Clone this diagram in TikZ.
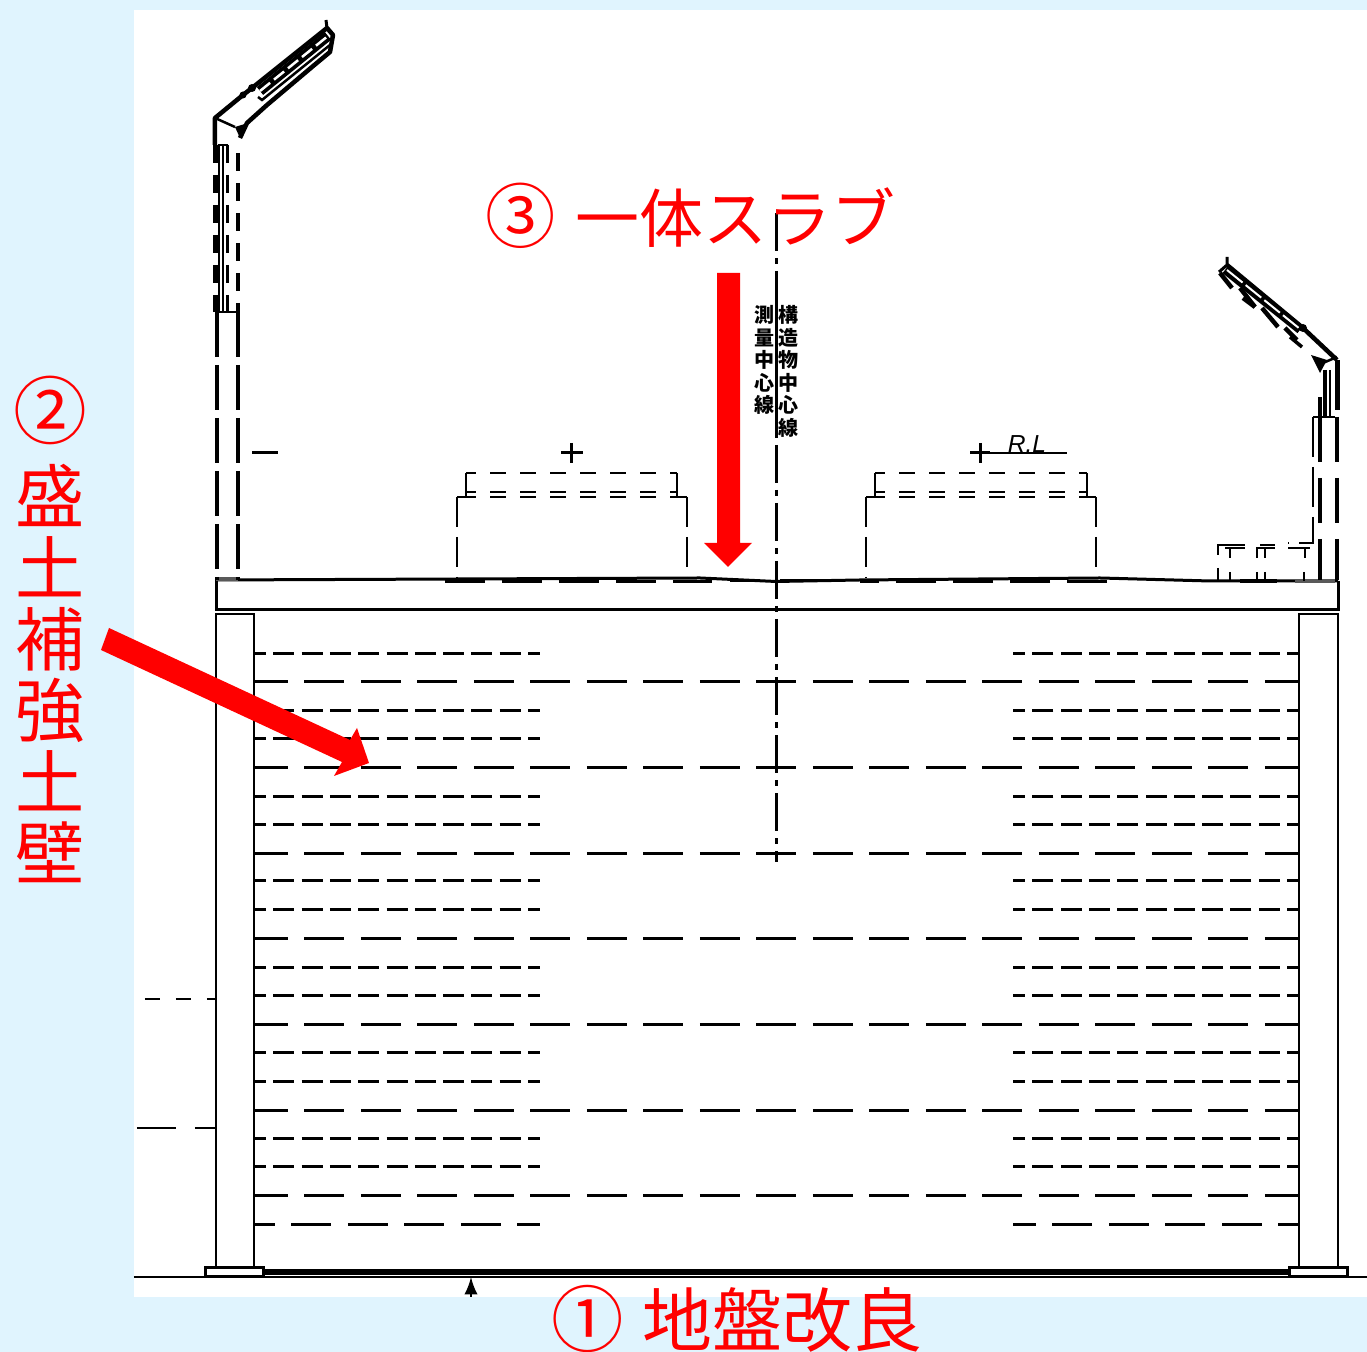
\documentclass[tikz,border=0pt]{standalone}
\usepackage{fontspec}
\setmainfont{Noto Sans CJK JP}
\newfontfamily\latinfont{Liberation Sans}
\usepackage{tikz}
\definecolor{skyback}{HTML}{E0F4FE}
\tikzset{
	plan/.style={line width=0.025cm,black},
	longrow/.style={line width=0.03cm,black,dash pattern=on 0.4cm off 0.165cm,dash phase=0.06cm},
	shortrow/.style={line width=0.03cm,black,dash pattern=on 0.21cm off 0.073cm,dash phase=0.09cm},
	heavy/.style={line width=0.03cm,black},
	stripe/.style={line width=0.045cm,black,dash pattern=on 0.18cm off 0.12cm},
	kerb/.style={plan,dash pattern=on 0.16cm off 0.14cm,dash phase=0.06cm},
	kerbside/.style={plan,dash pattern=on 0.3cm off 0.1cm},
	slabdash/.style={line width=0.03cm,black,dash pattern=on 0.4cm off 0.17cm},
	bigred/.style={red,font=\fontsize{18.2pt}{20.3pt}\selectfont\mdseries,inner sep=0pt},
	smalltext/.style={black,font=\fontsize{5.7pt}{6.4pt}\selectfont\bfseries,inner sep=0pt,align=center}
}
\begin{document}
\begin{tikzpicture}
			\useasboundingbox (0,0) rectangle (13.67,-13.52);
			\fill[skyback] (0,0) rectangle (13.67,-13.52);
			\fill[white] (1.34,-0.1) rectangle (13.67,-12.97);
			% reinforced rows
			\draw[longrow] (2.54,-6.82) -- (12.99,-6.82);
			\draw[longrow] (2.54,-7.68) -- (12.99,-7.68);
			\draw[longrow] (2.54,-8.54) -- (12.99,-8.54);
			\draw[longrow] (2.54,-9.39) -- (12.99,-9.39);
			\draw[longrow] (2.54,-10.25) -- (12.99,-10.25);
			\draw[longrow] (2.54,-11.11) -- (12.99,-11.11);
			\draw[longrow] (2.54,-11.96) -- (12.99,-11.96);
			\draw[shortrow] (2.54,-6.54) -- (5.4,-6.54);
			\draw[shortrow] (2.54,-7.11) -- (5.4,-7.11);
			\draw[shortrow] (2.54,-7.39) -- (5.4,-7.39);
			\draw[shortrow] (2.54,-7.97) -- (5.4,-7.97);
			\draw[shortrow] (2.54,-8.25) -- (5.4,-8.25);
			\draw[shortrow] (2.54,-8.81) -- (5.4,-8.81);
			\draw[shortrow] (2.54,-9.1) -- (5.4,-9.1);
			\draw[shortrow] (2.54,-9.68) -- (5.4,-9.68);
			\draw[shortrow] (2.54,-9.96) -- (5.4,-9.96);
			\draw[shortrow] (2.54,-10.53) -- (5.4,-10.53);
			\draw[shortrow] (2.54,-10.82) -- (5.4,-10.82);
			\draw[shortrow] (2.54,-11.39) -- (5.4,-11.39);
			\draw[shortrow] (2.54,-11.67) -- (5.4,-11.67);
			\draw[longrow,dash phase=0.19cm] (2.54,-12.25) -- (5.4,-12.25);
			\draw[shortrow] (12.99,-6.54) -- (10.13,-6.54);
			\draw[shortrow] (12.99,-7.11) -- (10.13,-7.11);
			\draw[shortrow] (12.99,-7.39) -- (10.13,-7.39);
			\draw[shortrow] (12.99,-7.97) -- (10.13,-7.97);
			\draw[shortrow] (12.99,-8.25) -- (10.13,-8.25);
			\draw[shortrow] (12.99,-8.81) -- (10.13,-8.81);
			\draw[shortrow] (12.99,-9.1) -- (10.13,-9.1);
			\draw[shortrow] (12.99,-9.68) -- (10.13,-9.68);
			\draw[shortrow] (12.99,-9.96) -- (10.13,-9.96);
			\draw[shortrow] (12.99,-10.53) -- (10.13,-10.53);
			\draw[shortrow] (12.99,-10.82) -- (10.13,-10.82);
			\draw[shortrow] (12.99,-11.39) -- (10.13,-11.39);
			\draw[shortrow] (12.99,-11.67) -- (10.13,-11.67);
			\draw[longrow,dash phase=0.19cm] (12.99,-12.25) -- (10.13,-12.25);
			% walls and footings
			\draw[plan] (2.16,-6.14) rectangle (2.54,-12.68);
			\draw[plan] (12.99,-6.14) rectangle (13.38,-12.68);
			\draw[heavy] (2.05,-12.68) rectangle (2.63,-12.77);
			\draw[heavy] (12.89,-12.68) rectangle (13.47,-12.77);
			\draw[plan] (1.34,-12.77) -- (13.67,-12.77);
			\draw[line width=0.055cm] (2.63,-12.72) -- (12.89,-12.72);
			\draw[plan,arrows=-latex] (4.71,-12.97) -- (4.71,-12.77);
			\draw[plan,dash pattern=on 0.15cm off 0.16cm] (1.45,-9.99) -- (2.16,-9.99);
			\draw[plan,dash pattern=on 0.39cm off 0.19cm] (1.37,-11.28) -- (2.16,-11.28);
			% slab
			\draw[heavy] (2.16,-5.8) -- (4.6,-5.79) -- (7,-5.78) -- (7.76,-5.815) -- (8.6,-5.8) -- (11,-5.78) -- (12.1,-5.81) -- (13.38,-5.81);
			\draw[heavy] (2.16,-5.8) -- (2.16,-6.1) -- (13.38,-6.1) -- (13.38,-5.81);
			\draw[slabdash] (4.45,-5.82) -- (7.12,-5.82);
			\draw[slabdash] (11.07,-5.82) -- (8.6,-5.82);
			\draw[heavy] (7.3,-5.81) -- (7.57,-5.81);
			\draw[heavy] (7.8,-5.81) -- (8.23,-5.81);
			\draw[line width=0.04cm,gray!70!black] (2.16,-5.79) -- (2.38,-5.79);
			\draw[line width=0.04cm,gray!70!black] (12.95,-5.81) -- (13.35,-5.81);
			\draw[line width=0.04cm] (12.4,-5.81) -- (12.77,-5.81);
			% centre line
			\draw[heavy,dash pattern=on 0.38cm off 0.07cm on 0.06cm off 0.07cm] (7.76,-2.13) -- (7.76,-8.62);
			\draw[heavy] (7.76,-2.9) -- (7.76,-4.36);
			% left kerb
			\draw[heavy] (5.71,-4.43) -- (5.71,-4.63);
			\draw[heavy] (5.61,-4.53) -- (5.83,-4.53);
			\draw[heavy] (2.52,-4.53) -- (2.78,-4.53);
			\draw[kerb] (4.66,-4.73) -- (6.77,-4.73);
			\draw[kerb] (4.66,-4.92) -- (6.77,-4.92);
			\draw[kerb] (4.66,-4.97) -- (6.77,-4.97);
			\draw[plan] (4.66,-4.73) -- (4.66,-4.97);
			\draw[plan] (6.77,-4.73) -- (6.77,-4.97);
			\draw[plan] (4.57,-4.97) -- (4.66,-4.97);
			\draw[plan] (6.77,-4.97) -- (6.87,-4.97);
			\draw[kerbside] (4.57,-4.97) -- (4.57,-5.78);
			\draw[kerbside] (6.87,-4.97) -- (6.87,-5.78);
			% right kerb
			\draw[heavy] (9.8,-4.43) -- (9.8,-4.63);
			\draw[plan] (9.7,-4.53) -- (10.67,-4.53);
			\draw[heavy] (9.7,-4.53) -- (9.9,-4.53);
			\draw[kerb] (8.75,-4.73) -- (10.87,-4.73);
			\draw[kerb] (8.75,-4.92) -- (10.87,-4.92);
			\draw[kerb] (8.75,-4.97) -- (10.87,-4.97);
			\draw[plan] (8.75,-4.73) -- (8.75,-4.97);
			\draw[plan] (10.87,-4.73) -- (10.87,-4.97);
			\draw[plan] (8.66,-4.97) -- (8.75,-4.97);
			\draw[plan] (10.87,-4.97) -- (10.96,-4.97);
			\draw[kerbside] (8.66,-4.97) -- (8.66,-5.78);
			\draw[kerbside] (10.96,-4.97) -- (10.96,-5.78);
			\node[inner sep=0pt,font=\latinfont\itshape\fontsize{7pt}{7pt}\selectfont] (roadlevel) at (10.27,-4.44) {R.L};
			% left parapet
			\draw[stripe] (2.155,-1.45) -- (2.155,-3.12);
			\draw[stripe,line width=0.03cm] (2.27,-1.45) -- (2.27,-3.12);
			\draw[stripe] (2.38,-1.53) -- (2.38,-3.12);
			\draw[plan] (2.19,-1.45) -- (2.19,-3.12) -- (2.37,-3.12);
			\draw[plan] (2.23,-1.45) -- (2.23,-3.12);
			\draw[plan] (2.18,-1.45) -- (2.28,-1.45);
			\draw[line width=0.035cm,dash pattern=on 0.45cm off 0.08cm] (2.17,-3.12) -- (2.17,-5.8);
			\draw[line width=0.035cm,dash pattern=on 0.45cm off 0.08cm] (2.38,-3.12) -- (2.38,-5.8);
			\draw[line width=0.045cm,line join=round] (2.15,-1.45) -- (2.15,-1.18) -- (2.43,-0.95) -- (2.52,-0.88) -- (3.27,-0.28) -- (3.33,-0.35) -- (3.3,-0.52) -- (3.12,-0.67) -- (2.67,-1.05) -- (2.47,-1.23) -- (2.4,-1.38);
			\draw[plan] (2.15,-1.18) -- (2.35,-1.27);
			\fill (2.35,-1.27) -- (2.48,-1.23) -- (2.4,-1.38) -- cycle;
			\draw[heavy] (3.26,-0.2) -- (3.27,-0.28);
			\draw[line width=0.1cm] (2.6,-0.91) -- (3.28,-0.36);
			\draw[white,line width=0.025cm,dash pattern=on 0.13cm off 0.05cm] (2.6,-0.91) -- (3.28,-0.36);
			\draw[plan] (2.58,-0.97) -- (2.62,-1.0) -- (3.3,-0.45);
			\fill (2.43,-0.95) circle (0.035);
			\fill (2.52,-0.88) circle (0.04);
			% right parapet
			\draw[line width=0.045cm,line join=round] (13.37,-3.6) -- (13.03,-3.28) -- (12.27,-2.65);
			\draw[heavy] (12.27,-2.57) -- (12.27,-2.65) -- (12.19,-2.72);
			\draw[line width=0.08cm] (12.25,-2.7) -- (13,-3.3);
			\draw[white,line width=0.02cm,dash pattern=on 0.2cm off 0.04cm] (12.27,-2.7) -- (13,-3.29);
			\draw[line width=0.045cm] (12.2,-2.73) -- (12.32,-2.88);
			\draw[line width=0.045cm] (12.4,-2.88) -- (12.55,-3.07);
			\draw[line width=0.045cm] (12.43,-2.98) -- (12.55,-3.07);
			\draw[line width=0.045cm] (12.62,-3.08) -- (12.78,-3.27);
			\draw[line width=0.045cm] (12.85,-3.28) -- (12.97,-3.4);
			\draw[line width=0.035cm] (12.9,-3.37) -- (13.02,-3.47);
			\fill (13.03,-3.28) circle (0.04);
			\fill (13.11,-3.55) -- (13.27,-3.6) -- (13.2,-3.73) -- cycle;
			\draw[plan] (13.23,-3.63) -- (13.37,-3.57);
			\draw[line width=0.045cm] (13.25,-3.7) -- (13.25,-4.17);
			\draw[plan] (13.3,-3.7) -- (13.3,-4.17);
			\draw[line width=0.05cm] (13.37,-3.6) -- (13.37,-4.1);
			\draw[line width=0.045cm] (13.2,-3.97) -- (13.2,-4.17);
			\draw[plan] (13.13,-4.17) -- (13.35,-4.17);
			\draw[kerbside,dash pattern=on 0.4cm off 0.1cm] (13.13,-4.17) -- (13.13,-5.43) -- (12.88,-5.43);
			\draw[line width=0.035cm,dash pattern=on 0.45cm off 0.16cm] (13.2,-4.17) -- (13.2,-5.8);
			\draw[line width=0.035cm,dash pattern=on 0.45cm off 0.16cm] (13.37,-4.17) -- (13.37,-5.8);
			\draw[plan] (12.18,-5.55) -- (12.18,-5.45) -- (12.45,-5.45);
			\draw[plan] (12.25,-5.48) -- (12.45,-5.48);
			\draw[plan] (12.3,-5.48) -- (12.3,-5.58);
			\draw[plan] (12.6,-5.45) -- (12.75,-5.45);
			\draw[plan] (12.57,-5.58) -- (12.57,-5.48) -- (12.75,-5.48);
			\draw[plan] (12.65,-5.48) -- (12.65,-5.58);
			\draw[plan] (12.88,-5.48) -- (13.1,-5.48);
			\draw[plan] (13.05,-5.48) -- (13.05,-5.58);
			\draw[plan] (12.18,-5.68) -- (12.18,-5.81);
			\draw[plan] (12.3,-5.72) -- (12.3,-5.81);
			\draw[plan] (12.57,-5.72) -- (12.57,-5.81);
			\draw[plan] (12.65,-5.72) -- (12.65,-5.81);
			\draw[plan] (13.04,-5.72) -- (13.04,-5.81);
			% small text
			\node[smalltext,anchor=north] (surveyline) at (7.65,-3.05) {測\\量\\中\\心\\線};
			\node[smalltext,anchor=north] (structureline) at (7.89,-3.05) {構\\造\\物\\中\\心\\線};
			% red arrows
			\fill[red] (7.17,-2.73) -- (7.4,-2.73) -- (7.4,-5.43) -- (7.52,-5.43) -- (7.28,-5.67) -- (7.04,-5.43) -- (7.17,-5.43) -- cycle;
			\fill[red] (1.09,-6.28) -- (3.5,-7.4) -- (3.57,-7.28) -- (3.69,-7.63) -- (3.34,-7.76) -- (3.42,-7.62) -- (1.01,-6.5) -- cycle;
			% labels
			\node[bigred,anchor=west] (slablabel) at (4.85,-2.16) {{\fontsize{20pt}{20pt}\selectfont ③} \hspace{1.4pt}一体スラブ};
			\node[bigred,anchor=west,font=\fontsize{19.9pt}{20.3pt}\selectfont] (groundlabel) at (5.51,-13.19) {{\fontsize{20.6pt}{20pt}\selectfont ①} \hspace{0.9pt}地盤改良};
			\node[bigred,anchor=north,align=center,font=\fontsize{19.7pt}{20.3pt}\selectfont] (walllabel) at (0.5,-3.75) {{\fontsize{21pt}{20pt}\selectfont ②}\\[3.8pt]盛\\土\\補\\強\\土\\壁};
		\end{tikzpicture}
\end{document}
